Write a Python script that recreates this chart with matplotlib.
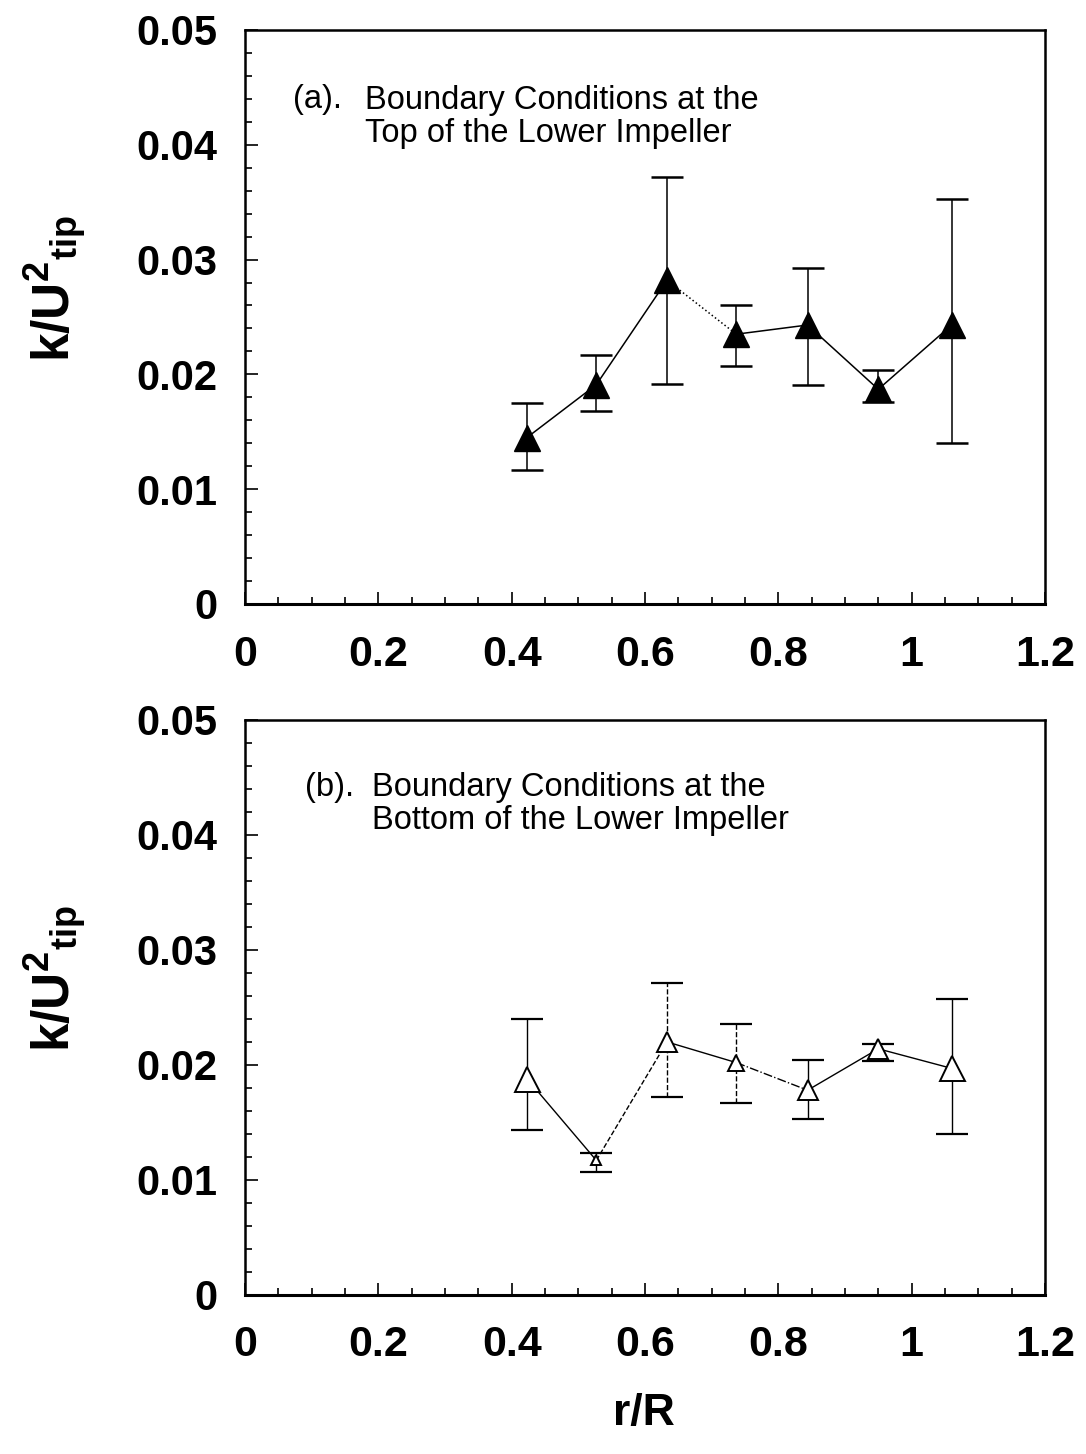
import numpy as np
import matplotlib
matplotlib.use('Agg')
import matplotlib.pyplot as plt
from matplotlib.ticker import FixedLocator, FixedFormatter, MultipleLocator

plt.rcParams['font.family'] = ['Liberation Sans', 'DejaVu Sans']
plt.rcParams['mathtext.fontset'] = 'custom'
plt.rcParams['mathtext.rm'] = 'Liberation Sans'
plt.rcParams['mathtext.bf'] = 'Liberation Sans:bold'

# data
r_R = [0.423, 0.527, 0.633, 0.737, 0.844, 0.950, 1.060]

# (a) top of the lower impeller
top_k = [0.0145, 0.0191, 0.0282, 0.0235, 0.0243, 0.0187, 0.0243]
top_hi = [0.0175, 0.0217, 0.0372, 0.0260, 0.0293, 0.0204, 0.0353]
top_lo = [0.0117, 0.0168, 0.0192, 0.0207, 0.0191, 0.0176, 0.0140]

# (b) bottom of the lower impeller
bot_k = [0.0188, 0.0117, 0.0220, 0.0202, 0.0178, 0.0214, 0.0197]
bot_hi = [0.0240, 0.0123, 0.0271, 0.0236, 0.0204, 0.0218, 0.0257]
bot_lo = [0.0143, 0.0107, 0.0172, 0.0167, 0.0153, 0.0203, 0.0140]

x_ticks = [0, 0.2, 0.4, 0.6, 0.8, 1.0, 1.2]
x_labels = ['0', '0.2', '0.4', '0.6', '0.8', '1', '1.2']
y_ticks = [0, 0.01, 0.02, 0.03, 0.04, 0.05]
y_labels = ['0', '0.01', '0.02', '0.03', '0.04', '0.05']

title_a = ['(a).', 'Boundary Conditions at the\nTop of the Lower Impeller']
title_b = ['(b).', 'Boundary Conditions at the\nBottom of the Lower Impeller']

# line style of each connecting segment (scan shows some dotted/dashed)
top_seg = ['-', '-', ':', '-', '-', '-']
bot_seg = ['-', '--', '-', '-.', '-', '-']
bot_err = ['-', '-', '--', '--', '-', '-', '-']
bot_ms = [18, 7, 14, 12, 14, 14, 18]

fig = plt.figure(figsize=(10.86, 14.54), dpi=100)
ax1 = fig.add_axes([0.2256, 0.5846, 0.7366, 0.3948])
ax2 = fig.add_axes([0.2256, 0.1094, 0.7366, 0.3955])


def style_axes(ax):
    ax.set_xlim(0, 1.2)
    ax.set_ylim(0, 0.05)
    ax.xaxis.set_major_locator(FixedLocator(x_ticks))
    ax.xaxis.set_major_formatter(FixedFormatter(x_labels))
    ax.yaxis.set_major_locator(FixedLocator(y_ticks))
    ax.yaxis.set_major_formatter(FixedFormatter(y_labels))
    ax.xaxis.set_minor_locator(MultipleLocator(0.05))
    ax.yaxis.set_minor_locator(MultipleLocator(0.002))
    ax.tick_params(which='both', direction='in', top=False, right=False, width=1.2)
    ax.tick_params(which='major', length=9)
    ax.tick_params(which='minor', length=5)
    ax.tick_params(axis='y', which='major', pad=20)
    ax.tick_params(axis='x', which='major', pad=22)
    for lab in ax.get_yticklabels():
        lab.set_fontsize(30)
        lab.set_fontweight('bold')
    for lab in ax.get_xticklabels():
        lab.set_fontsize(31)
        lab.set_fontweight('bold')
    for sp in ax.spines.values():
        sp.set_linewidth(1.8)
    ax.spines['bottom'].set_linewidth(2.2)
    ax.set_ylabel(r'$\mathbf{k/U^{2}{}_{tip}}$', fontsize=37)
    ax.yaxis.set_label_coords(-0.195, 0.55)


# top panel
for i in range(len(r_R) - 1):
    ax1.plot(r_R[i:i + 2], top_k[i:i + 2], color='black', lw=1.1, ls=top_seg[i])
top_err = [np.array(top_k) - np.array(top_lo), np.array(top_hi) - np.array(top_k)]
ax1.errorbar(r_R, top_k, yerr=top_err, fmt='none', ecolor='black',
             elinewidth=1.1, capsize=11.5, capthick=1.8)
ax1.plot(r_R, top_k, ls='none', marker='^', ms=19, color='black', mec='black')
style_axes(ax1)
ax1.text(0.06, 0.878, title_a[0], transform=ax1.transAxes, fontsize=23.5,
         va='center', ha='left')
ax1.text(0.15, 0.848, title_a[1], transform=ax1.transAxes, fontsize=23.5,
         va='center', ha='left', linespacing=1.1)

# bottom panel
for i in range(len(r_R) - 1):
    ax2.plot(r_R[i:i + 2], bot_k[i:i + 2], color='black', lw=1.0, ls=bot_seg[i])
for i in range(len(r_R)):
    e = ax2.errorbar(r_R[i], bot_k[i],
                     yerr=[[bot_k[i] - bot_lo[i]], [bot_hi[i] - bot_k[i]]],
                     fmt='none', ecolor='black', elinewidth=1.0,
                     capsize=11.5, capthick=1.6)
    e[2][0].set_linestyle(bot_err[i])
    ax2.plot(r_R[i], bot_k[i], ls='none', marker='^', ms=bot_ms[i],
             mfc='white', mec='black', mew=1.4)
style_axes(ax2)
ax2.text(0.075, 0.883, title_b[0], transform=ax2.transAxes, fontsize=23.5,
         va='center', ha='left')
ax2.text(0.159, 0.854, title_b[1], transform=ax2.transAxes, fontsize=23.5,
         va='center', ha='left', linespacing=1.1)

fig.text(0.593, 0.028, 'r/R', fontsize=32, fontweight='bold', ha='center', va='center')

fig.savefig('out.png', dpi=100, facecolor='white')
